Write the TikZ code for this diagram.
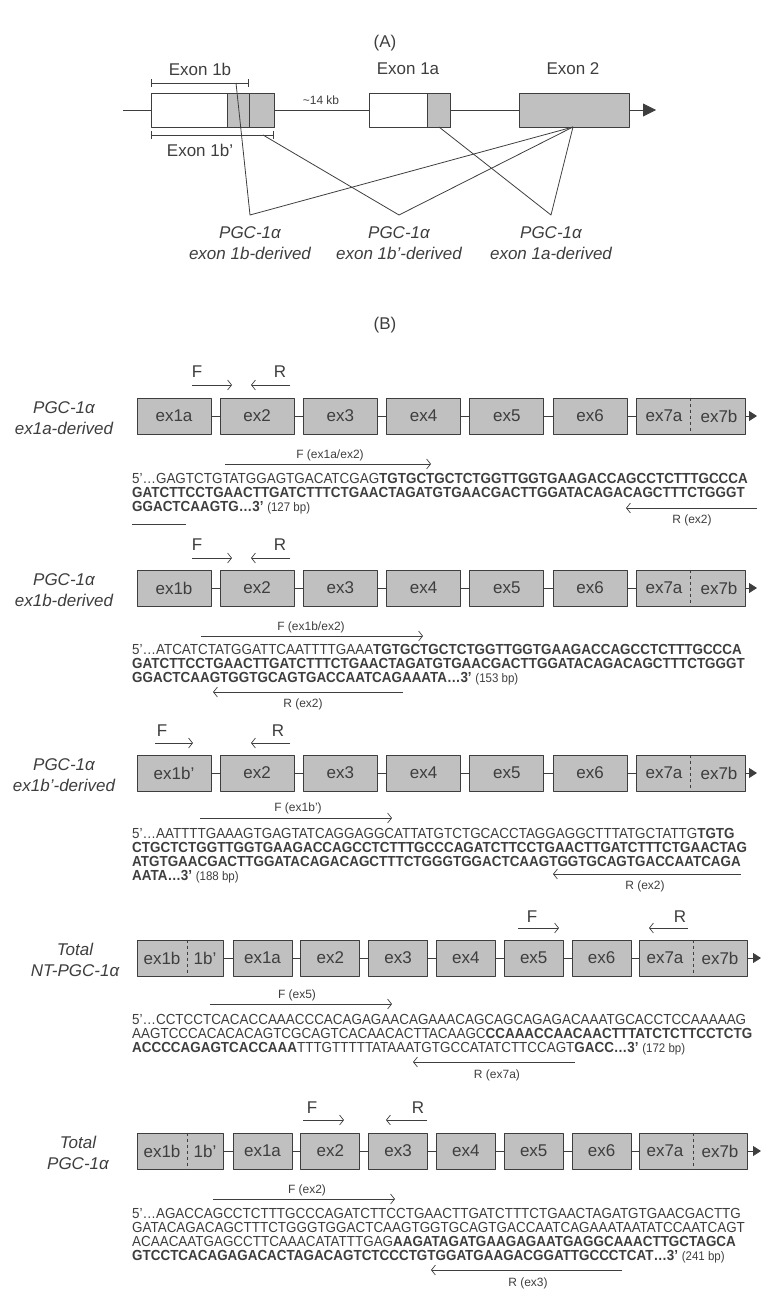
\documentclass[tikz,border=0pt]{standalone}
\usepackage{fontspec}
\setmainfont{Liberation Sans}
\newfontfamily\seqfont{Liberation Sans}[FakeStretch=0.92]
\usetikzlibrary{arrows.meta}
\definecolor{ink}{RGB}{62,62,62}
\definecolor{exgray}{RGB}{192,192,192}
\begin{document}
\begin{tikzpicture}[x=1pt,y=-1pt,line join=round,
    every node/.style={text=ink},
    lbl/.style={font=\fontsize{17}{21}\selectfont},
    small/.style={font=\fontsize{12}{14}\selectfont},
    iso/.style={font=\fontsize{17}{21}\selectfont\itshape,align=center},
    exbox/.style={draw=ink,fill=exgray,line width=0.8pt,minimum height=36pt,inner sep=0pt,font=\fontsize{17}{20}\selectfont},
    seq/.style={anchor=base west,inner sep=0pt,font=\seqfont\fontsize{14.6}{14}\selectfont},
    link/.style={draw=ink,line width=0.9pt},
    primer/.style={draw=ink,line width=0.7pt,-{Straight Barb[length=4pt,width=10pt]}},
    gene/.style={draw=ink,line width=0.9pt,-{Triangle[length=8pt,width=10pt]}}]
  \useasboundingbox (0,0) rectangle (771,1295);

  \node[lbl] (labA) at (385,43) {(A)};
  \coordinate (gstart) at (123,110);
  \coordinate (gend) at (656,110);
  \draw[link,-{Triangle[length=13pt,width=13pt]}] (gstart) -- (gend);
  \filldraw[draw=ink,fill=white,line width=0.8pt] (151,93) rectangle (274,127);
  \filldraw[draw=ink,fill=exgray,line width=0.8pt] (227,93) rectangle (274,127);
  \draw[ink,line width=0.8pt] (249,93) -- (249,127);
  \filldraw[draw=ink,fill=white,line width=0.8pt] (369,93) rectangle (450,127);
  \filldraw[draw=ink,fill=exgray,line width=0.8pt] (427,93) rectangle (450,127);
  \filldraw[draw=ink,fill=exgray,line width=0.8pt] (519,93) rectangle (629,127);
  \draw[ink,line width=0.8pt,{Bar[width=8pt]}-{Bar[width=8pt]}] (151,83) -- (249,83);
  \draw[ink,line width=0.8pt,{Bar[width=8pt]}-{Bar[width=8pt]}] (151,135) -- (274,135);
  \node[lbl] (ex1blab) at (200,69) {Exon 1b};
  \node[lbl] (ex1bplab) at (200,150) {Exon 1b’};
  \node[lbl] (ex1alab) at (408,69) {Exon 1a};
  \node[lbl] (ex2lab) at (573,69) {Exon 2};
  \node[small] (kb) at (321,100) {\textasciitilde 14 kb};
  \coordinate (junc) at (573,127);
  \coordinate (top1b) at (236,83);
  \coordinate (v1b) at (250,215);
  \coordinate (bot1bp) at (263,135);
  \coordinate (v1bp) at (399,215);
  \coordinate (bot1a) at (439,127);
  \coordinate (v1a) at (551,215);
  \draw[ink,line width=0.8pt] (top1b) -- (v1b) -- (junc);
  \draw[ink,line width=0.8pt] (bot1bp) -- (v1bp) -- (junc);
  \draw[ink,line width=0.8pt] (bot1a) -- (v1a) -- (junc);
  \node[iso,anchor=north] (iso1b) at (250,223) {PGC-1α\\exon 1b-derived};
  \node[iso,anchor=north] (iso1bp) at (399,223) {PGC-1α\\exon 1b’-derived};
  \node[iso,anchor=north] (iso1a) at (551,223) {PGC-1α\\exon 1a-derived};

  \node[lbl] (labB) at (385,325) {(B)};

  \node[iso] (r1lab) at (64,418) {PGC-1α\\ex1a-derived};
  \foreach \t [count=\i] in {ex1a,ex2,ex3,ex4,ex5,ex6}
    \node[exbox,minimum width=74pt] (r1e\i) at ({174+83.2*(\i-1)},416) {\t};
  \node[exbox,minimum width=109pt] (r1e7) at (690.5,416) {};
  \draw[ink,dashed,line width=0.6pt] (r1e7.north) -- (r1e7.south);
  \node[lbl] (r1e7a) at (664,416) {ex7a};
  \node[lbl] (r1e7b) at (719,416) {ex7b};
  \coordinate (r1end) at (757,416);
  \foreach \i/\j in {1/2,2/3,3/4,4/5,5/6,6/7}
    \draw[link] (r1e\i) -- (r1e\j);
  \draw[gene] (r1e7) -- (r1end);
  \node[lbl] (r1F) at (197,372) {F};
  \node[lbl] (r1R) at (280,372) {R};
  \coordinate (r1F1) at (192,385); \coordinate (r1F2) at (232,385);
  \coordinate (r1R1) at (290,385); \coordinate (r1R2) at (251,385);
  \draw[primer] (r1F1) -- (r1F2);
  \draw[primer] (r1R1) -- (r1R2);
  \node[small] (r1fp) at (330,455) {F (ex1a/ex2)};
  \coordinate (r1fp1) at (225,464); \coordinate (r1fp2) at (431,464);
  \draw[primer] (r1fp1) -- (r1fp2);
  \node[seq] (r1s1) at (132,483) {5’…GAGTCTGTATGGAGTGACATCGAG\textbf{TGTGCTGCTCTGGTTGGTGAAGACCAGCCTCTTTGCCCA}};
  \node[seq] (r1s2) at (132,497) {\textbf{GATCTTCCTGAACTTGATCTTTCTGAACTAGATGTGAACGACTTGGATACAGACAGCTTTCTGGGT}};
  \node[seq] (r1s3) at (132,511) {\textbf{GGACTCAAGTG…3’} {\fontsize{12.5}{14}\selectfont(127 bp)}};
  \coordinate (r1rp1) at (757,508); \coordinate (r1rp2) at (626,508);
  \draw[primer] (r1rp1) -- (r1rp2);
  \node[small] (r1rp) at (692,520) {R (ex2)};
  \coordinate (r1u1) at (132,524); \coordinate (r1u2) at (186,524);
  \draw[ink,line width=0.7pt] (r1u1) -- (r1u2);

  \node[iso] (r2lab) at (64,590) {PGC-1α\\ex1b-derived};
  \foreach \t [count=\i] in {ex1b,ex2,ex3,ex4,ex5,ex6}
    \node[exbox,minimum width=74pt] (r2e\i) at ({174+83.2*(\i-1)},588) {\t};
  \node[exbox,minimum width=109pt] (r2e7) at (690.5,588) {};
  \draw[ink,dashed,line width=0.6pt] (r2e7.north) -- (r2e7.south);
  \node[lbl] (r2e7a) at (664,588) {ex7a};
  \node[lbl] (r2e7b) at (719,588) {ex7b};
  \coordinate (r2end) at (757,588);
  \foreach \i/\j in {1/2,2/3,3/4,4/5,5/6,6/7}
    \draw[link] (r2e\i) -- (r2e\j);
  \draw[gene] (r2e7) -- (r2end);
  \node[lbl] (r2F) at (197,545) {F};
  \node[lbl] (r2R) at (280,545) {R};
  \coordinate (r2F1) at (192,558); \coordinate (r2F2) at (232,558);
  \coordinate (r2R1) at (290,558); \coordinate (r2R2) at (251,558);
  \draw[primer] (r2F1) -- (r2F2);
  \draw[primer] (r2R1) -- (r2R2);
  \node[small] (r2fp) at (311,627) {F (ex1b/ex2)};
  \coordinate (r2fp1) at (201,636); \coordinate (r2fp2) at (423,636);
  \draw[primer] (r2fp1) -- (r2fp2);
  \node[seq] (r2s1) at (132,654) {5’…ATCATCTATGGATTCAATTTTGAAA\textbf{TGTGCTGCTCTGGTTGGTGAAGACCAGCCTCTTTGCCCA}};
  \node[seq] (r2s2) at (132,668) {\textbf{GATCTTCCTGAACTTGATCTTTCTGAACTAGATGTGAACGACTTGGATACAGACAGCTTTCTGGGT}};
  \node[seq] (r2s3) at (132,682) {\textbf{GGACTCAAGTGGTGCAGTGACCAATCAGAAATA…3’} {\fontsize{12.5}{14}\selectfont(153 bp)}};
  \coordinate (r2rp1) at (403,692); \coordinate (r2rp2) at (213,692);
  \draw[primer] (r2rp1) -- (r2rp2);
  \node[small] (r2rp) at (303,704) {R (ex2)};

  \node[iso] (r3lab) at (64,775) {PGC-1α\\ex1b’-derived};
  \foreach \t [count=\i] in {ex1b’,ex2,ex3,ex4,ex5,ex6}
    \node[exbox,minimum width=74pt] (r3e\i) at ({174+83.2*(\i-1)},773) {\t};
  \node[exbox,minimum width=109pt] (r3e7) at (690.5,773) {};
  \draw[ink,dashed,line width=0.6pt] (r3e7.north) -- (r3e7.south);
  \node[lbl] (r3e7a) at (664,773) {ex7a};
  \node[lbl] (r3e7b) at (719,773) {ex7b};
  \coordinate (r3end) at (757,773);
  \foreach \i/\j in {1/2,2/3,3/4,4/5,5/6,6/7}
    \draw[link] (r3e\i) -- (r3e\j);
  \draw[gene] (r3e7) -- (r3end);
  \node[lbl] (r3F) at (162,731) {F};
  \node[lbl] (r3R) at (278,731) {R};
  \coordinate (r3F1) at (155,743); \coordinate (r3F2) at (193,743);
  \coordinate (r3R1) at (290,743); \coordinate (r3R2) at (251,743);
  \draw[primer] (r3F1) -- (r3F2);
  \draw[primer] (r3R1) -- (r3R2);
  \node[small] (r3fp) at (298,808) {F (ex1b’)};
  \coordinate (r3fp1) at (200,818); \coordinate (r3fp2) at (392,818);
  \draw[primer] (r3fp1) -- (r3fp2);
  \node[seq] (r3s1) at (132,838) {5’…AATTTTGAAAGTGAGTATCAGGAGGCATTATGTCTGCACCTAGGAGGCTTTATGCTATTG\textbf{TGTG}};
  \node[seq] (r3s2) at (132,852) {\textbf{CTGCTCTGGTTGGTGAAGACCAGCCTCTTTGCCCAGATCTTCCTGAACTTGATCTTTCTGAACTAG}};
  \node[seq] (r3s3) at (132,866) {\textbf{ATGTGAACGACTTGGATACAGACAGCTTTCTGGGTGGACTCAAGTGGTGCAGTGACCAATCAGA}};
  \node[seq] (r3s4) at (132,880) {\textbf{AATA…3’} {\fontsize{12.5}{14}\selectfont(188 bp)}};
  \coordinate (r3rp1) at (741,874); \coordinate (r3rp2) at (553,874);
  \draw[primer] (r3rp1) -- (r3rp2);
  \node[small] (r3rp) at (645,886) {R (ex2)};

  \node[iso] (r4lab) at (75,960) {Total\\NT-PGC-1α};
  \node[exbox,minimum width=86pt] (r4e1) at (180,958) {};
  \draw[ink,dashed,line width=0.6pt] (r4e1.north) ++(7,0) -- ++(0,36);
  \node[lbl] (r4e1a) at (162,958) {ex1b};
  \node[lbl] (r4e1b) at (205,958) {1b’};
  \foreach \t [count=\i from 2] in {ex1a,ex2,ex3,ex4,ex5,ex6}
    \node[exbox,minimum width=59pt] (r4e\i) at ({262.5+67.8*(\i-2)},958) {\t};
  \node[exbox,minimum width=108pt] (r4e8) at (693,958) {};
  \draw[ink,dashed,line width=0.6pt] (r4e8.north) -- (r4e8.south);
  \node[lbl] (r4e8a) at (665,958) {ex7a};
  \node[lbl] (r4e8b) at (720,958) {ex7b};
  \coordinate (r4end) at (761,958);
  \foreach \i/\j in {1/2,2/3,3/4,4/5,5/6,6/7,7/8}
    \draw[link] (r4e\i) -- (r4e\j);
  \draw[gene] (r4e8) -- (r4end);
  \node[lbl] (r4F) at (532,917) {F};
  \node[lbl] (r4R) at (680,917) {R};
  \coordinate (r4F1) at (518,928); \coordinate (r4F2) at (559,928);
  \coordinate (r4R1) at (688,928); \coordinate (r4R2) at (649,928);
  \draw[primer] (r4F1) -- (r4F2);
  \draw[primer] (r4R1) -- (r4R2);
  \node[small] (r4fp) at (297,995) {F (ex5)};
  \coordinate (r4fp1) at (210,1004); \coordinate (r4fp2) at (392,1004);
  \draw[primer] (r4fp1) -- (r4fp2);
  \node[seq] (r4s1) at (132,1024) {5’…CCTCCTCACACCAAACCCACAGAGAACAGAAACAGCAGCAGAGACAAATGCACCTCCAAAAAG};
  \node[seq] (r4s2) at (132,1038) {AAGTCCCACACACAGTCGCAGTCACAACACTTACAAGC\textbf{CCAAACCAACAACTTTATCTCTTCCTCTG}};
  \node[seq] (r4s3) at (132,1052) {\textbf{ACCCCAGAGTCACCAAA}TTTGTTTTTATAAATGTGCCATATCTTCCAGT\textbf{GACC…3’} {\fontsize{12.5}{14}\selectfont(172 bp)}};
  \coordinate (r4rp1) at (575,1062); \coordinate (r4rp2) at (413,1062);
  \draw[primer] (r4rp1) -- (r4rp2);
  \node[small] (r4rp) at (497,1075) {R (ex7a)};

  \node[iso] (r5lab) at (78,1153) {Total\\PGC-1α};
  \node[exbox,minimum width=86pt] (r5e1) at (180,1151) {};
  \draw[ink,dashed,line width=0.6pt] (r5e1.north) ++(7,0) -- ++(0,36);
  \node[lbl] (r5e1a) at (162,1151) {ex1b};
  \node[lbl] (r5e1b) at (205,1151) {1b’};
  \foreach \t [count=\i from 2] in {ex1a,ex2,ex3,ex4,ex5,ex6}
    \node[exbox,minimum width=59pt] (r5e\i) at ({262.5+67.8*(\i-2)},1151) {\t};
  \node[exbox,minimum width=108pt] (r5e8) at (693,1151) {};
  \draw[ink,dashed,line width=0.6pt] (r5e8.north) -- (r5e8.south);
  \node[lbl] (r5e8a) at (665,1151) {ex7a};
  \node[lbl] (r5e8b) at (720,1151) {ex7b};
  \coordinate (r5end) at (761,1151);
  \foreach \i/\j in {1/2,2/3,3/4,4/5,5/6,6/7,7/8}
    \draw[link] (r5e\i) -- (r5e\j);
  \draw[gene] (r5e8) -- (r5end);
  \node[lbl] (r5F) at (312,1108) {F};
  \node[lbl] (r5R) at (418,1108) {R};
  \coordinate (r5F1) at (303,1120); \coordinate (r5F2) at (344,1120);
  \coordinate (r5R1) at (427,1120); \coordinate (r5R2) at (386,1120);
  \draw[primer] (r5F1) -- (r5F2);
  \draw[primer] (r5R1) -- (r5R2);
  \node[small] (r5fp) at (307,1190) {F (ex2)};
  \coordinate (r5fp1) at (213,1199); \coordinate (r5fp2) at (395,1199);
  \draw[primer] (r5fp1) -- (r5fp2);
  \node[seq] (r5s1) at (132,1218) {5’…AGACCAGCCTCTTTGCCCAGATCTTCCTGAACTTGATCTTTCTGAACTAGATGTGAACGACTTG};
  \node[seq] (r5s2) at (132,1232) {GATACAGACAGCTTTCTGGGTGGACTCAAGTGGTGCAGTGACCAATCAGAAATAATATCCAATCAGT};
  \node[seq] (r5s3) at (132,1246) {ACAACAATGAGCCTTCAAACATATTTGAG\textbf{AAGATAGATGAAGAGAATGAGGCAAACTTGCTAGCA}};
  \node[seq] (r5s4) at (132,1260) {\textbf{GTCCTCACAGAGACACTAGACAGTCTCCCTGTGGATGAAGACGGATTGCCCTCAT…3’} {\fontsize{12.5}{14}\selectfont(241 bp)}};
  \coordinate (r5rp1) at (622,1270); \coordinate (r5rp2) at (431,1270);
  \draw[primer] (r5rp1) -- (r5rp2);
  \node[small] (r5rp) at (528,1283) {R (ex3)};
\end{tikzpicture}
\end{document}
